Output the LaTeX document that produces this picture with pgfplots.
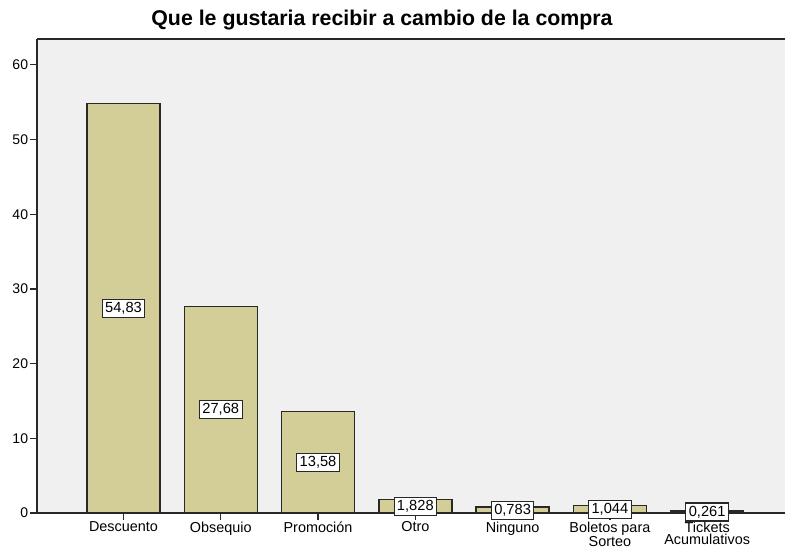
\documentclass[border=0pt]{standalone}
\usepackage{fontspec}
\setmainfont{Liberation Sans}
\usepackage{pgfplots}
\usepackage{pgfplotstable}
\pgfplotsset{compat=1.18}
\definecolor{barfill}{RGB}{211,206,151}
\definecolor{plotbg}{RGB}{240,240,240}
\definecolor{edge}{RGB}{40,40,40}

% percentages, label as printed (decimal comma)
\pgfplotstableread{
x v lab
0 54.83 54,83
1 27.68 27,68
2 13.58 13,58
3 1.828 1,828
4 0.783 0,783
5 1.044 1,044
6 0.261 0,261
}\datos

\begin{document}
\begin{tikzpicture}[x=1pt,y=1pt]
\path (0,0) rectangle (588.75,411.75);
\begin{pgfinterruptboundingbox}
\begin{axis}[
    at={(27.75pt,27pt)}, anchor=south west,
    scale only axis, width=561pt, height=355.5pt,
    xmin=-0.889, xmax=6.8, ymin=0, ymax=63.46,
    axis x line*=box, axis y line*=left,
    axis line style={draw=edge, line width=0.9pt},
    axis background/.style={fill=plotbg},
    xtick={0,...,6},
    xticklabels={Descuento, Obsequio, Promoción, Otro, Ninguno,
        {Boletos para\\Sorteo}, {Tickets\\Acumulativos}},
    xtick pos=bottom, ytick pos=left, tick align=outside,
    major tick length=5pt,
    tick style={draw=edge, line width=0.9pt},
    ytick={0,10,...,60},
    x tick label style={font=\fontsize{10.8}{9.4}\selectfont, align=center, inner sep=1.5pt},
    y tick label style={font=\fontsize{10.5}{11}\selectfont, inner sep=1.5pt},
    /pgf/number format/assume math mode=true,
]
\addplot[ybar, bar width=54.75pt, bar shift=0pt, fill=barfill, draw=edge, line width=1pt]
    table[x=x, y=v]{\datos};
\addplot[draw=none, mark=none, nodes near coords, point meta=explicit symbolic,
    nodes near coords style={anchor=center, fill=white, draw=edge, line width=0.8pt,
        inner sep=2.2pt, font=\fontsize{11}{12}\selectfont}]
    table[x=x, y expr=\thisrow{v}/2, meta=lab]{\datos};
\end{axis}
\end{pgfinterruptboundingbox}
\node[font=\bfseries\fontsize{16}{18}\selectfont] at (286.5,396.75)
    {Que le gustaria recibir a cambio de la compra};
\end{tikzpicture}
\end{document}
